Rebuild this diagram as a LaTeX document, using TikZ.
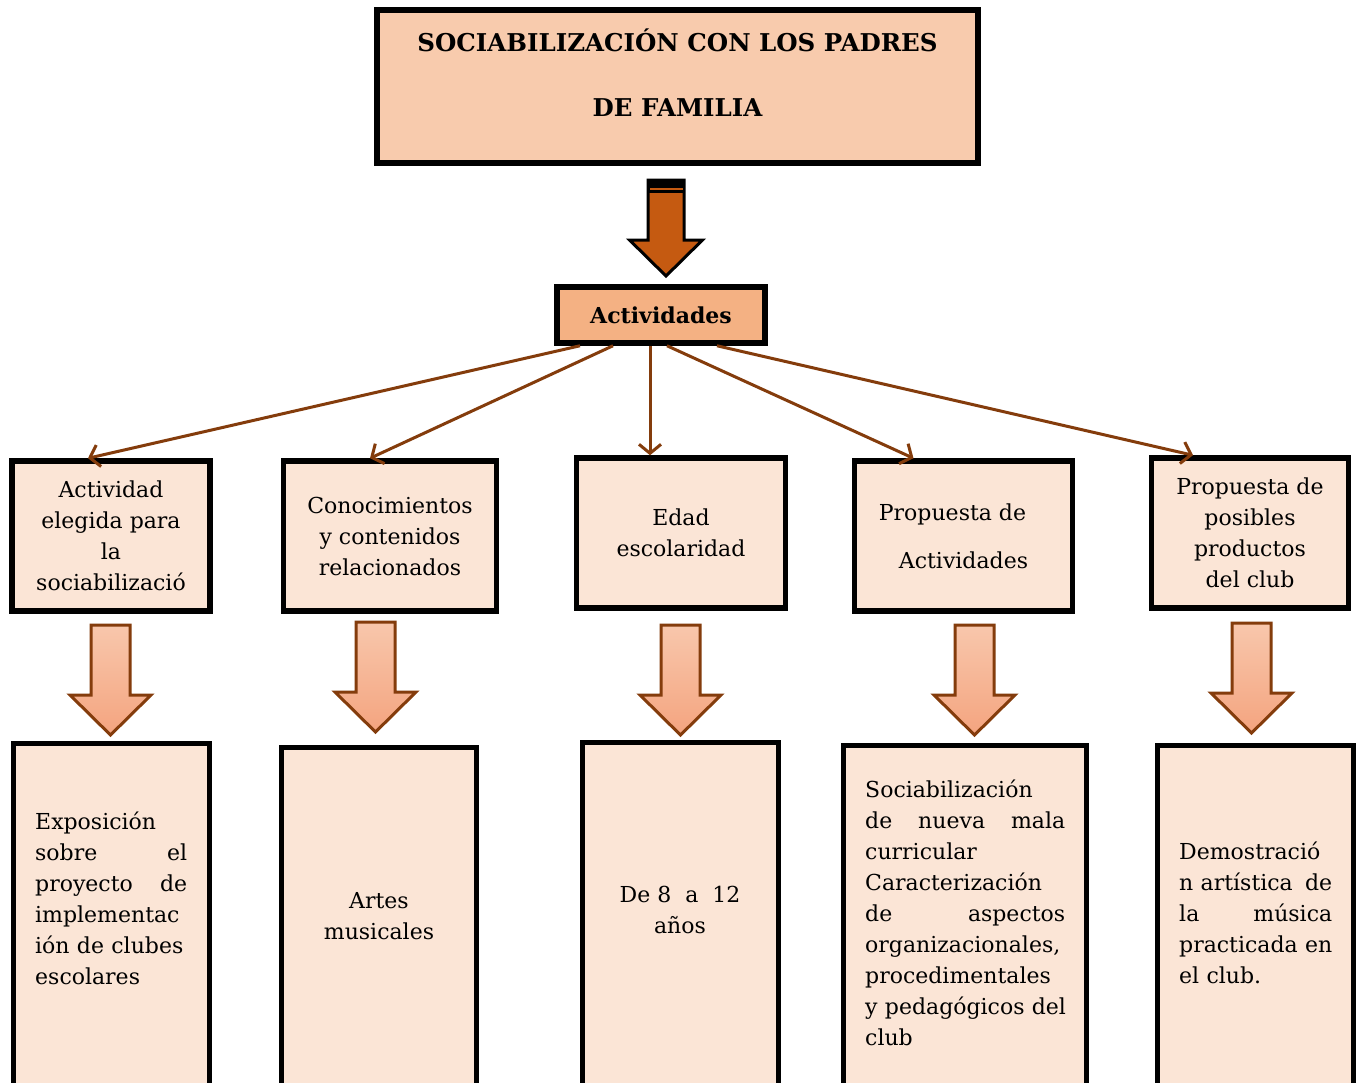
\documentclass[tikz,border=0pt]{standalone}
\usepackage{fontspec}
\setmainfont{DejaVu Serif}
\usetikzlibrary{arrows.meta,calc}
\definecolor{titlefill}{HTML}{F8CBAD}
\definecolor{actfill}{HTML}{F4B183}
\definecolor{boxfill}{HTML}{FBE5D6}
\definecolor{brownline}{HTML}{843C0C}
\definecolor{bigorange}{HTML}{C55A11}
\definecolor{arrowtop}{HTML}{F8C7AC}
\definecolor{arrowbot}{HTML}{F4A47F}
\newcommand{\jl}[2]{\makebox[#1][l]{#2}}
\newcommand{\smarrow}[2]{%
  \path[smallarrow] (#1-19.5,#2) -- (#1+19.5,#2) -- (#1+19.5,#2+70) -- (#1+40.5,#2+70)
    -- (#1,#2+110) -- (#1-40.5,#2+70) -- (#1-19.5,#2+70) -- cycle;}
\begin{document}
\begin{tikzpicture}[x=1pt,y=-1pt,
  box/.style={draw=black, line width=5.5pt, inner sep=0pt, align=center,
    font=\fontsize{22}{31}\selectfont},
  rowbox/.style={box, fill=boxfill},
  txt/.style={inner sep=0pt, font=\fontsize{22}{31}\selectfont},
  conn/.style={draw=brownline, line width=3pt, -{Straight Barb[length=9pt,width=22pt]}},
  smallarrow/.style={draw=brownline, line width=3pt, top color=arrowtop, bottom color=arrowbot, line join=miter}]
\useasboundingbox (0,0) rectangle (1362,1082);
\fill[white] (0,0) rectangle (1362,1082);

% title
\node[box, fill=titlefill, minimum width=601pt, minimum height=153pt] (title) at (677.5,86.5) {};
\node[txt, font=\bfseries\fontsize{24.5}{65}\selectfont, align=center] (titletxt) at (677.5,73)
  {SOCIABILIZACIÓN CON LOS PADRES\\DE FAMILIA};

% big arrow
\path[draw=black, line width=3pt, fill=bigorange, line join=miter]
  (648,180) -- (684,180) -- (684,240) -- (702.5,240) -- (666,276) -- (629.5,240) -- (648,240) -- cycle;
\fill[black] (648,179) rectangle (684,193);
\fill[bigorange] (649.5,187.5) rectangle (682.5,189.5);

% actividades
\node[box, fill=actfill, minimum width=208pt, minimum height=56pt,
  font=\bfseries\fontsize{22}{31}\selectfont] (act) at (661,315) {Actividades};

% row boxes
\node[rowbox, minimum width=198pt, minimum height=150pt] (b1) at (111,536)
  {Actividad\\elegida para\\la\\sociabilizació};
\node[rowbox, minimum width=213pt, minimum height=150pt] (b2) at (390,536)
  {Conocimientos\\y contenidos\\relacionados};
\node[rowbox, minimum width=209pt, minimum height=150pt] (b3) at (681,533)
  {Edad\\escolaridad};
\node[rowbox, minimum width=218pt, minimum height=150pt] (b4) at (963.5,536)
  {\hspace*{-22pt}Propuesta de\\[17pt]Actividades};
\node[rowbox, minimum width=197pt, minimum height=150pt] (b5) at (1250,533)
  {Propuesta de\\posibles\\productos\\del club};

% connectors
\draw[conn] ([xshift=-81pt]act.south) -- ([xshift=-23pt]b1.north);
\draw[conn] ([xshift=-48pt]act.south) -- ([xshift=-20pt]b2.north);
\draw[conn] ([xshift=-11pt]act.south) -- ([xshift=-31pt]b3.north);
\draw[conn] ([xshift=6pt]act.south) -- ([xshift=-50pt]b4.north);
\draw[conn] ([xshift=56pt]act.south) -- ([xshift=-57pt]b5.north);

% small arrows
\smarrow{110.5}{625}
\smarrow{375.5}{622}
\smarrow{680.5}{625}
\smarrow{974.5}{625}
\smarrow{1251.5}{623}

% bottom boxes
\node[rowbox, minimum width=196pt, minimum height=354pt] (c1) at (111.5,920.5) {};
\node[rowbox, minimum width=195pt, minimum height=350pt] (c2) at (379,922.5) {};
\node[rowbox, minimum width=196pt, minimum height=355pt] (c3) at (680.5,920) {};
\node[rowbox, minimum width=243pt, minimum height=352pt] (c4) at (965,921.5) {};
\node[rowbox, minimum width=196pt, minimum height=352pt] (c5) at (1255.5,921.5) {};

\node[txt, text width=170pt, align=left, anchor=west] (t1) at (35,898)
  {Exposición\\\jl{152pt}{sobre\hfill el}\\\jl{152pt}{proyecto\hfill de}\\implementac\\ión de clubes\\escolares};
\node[txt, align=center] (t2) at (379,916) {Artes\\musicales};
\node[txt, align=center] (t3) at (680,910) {De 8~~a~~12\\años};
\node[txt, text width=215pt, align=left, anchor=west] (t4) at (865,913)
  {Sociabilización\\\jl{200pt}{de\hfill nueva\hfill mala}\\curricular\\Caracterización\\\jl{200pt}{de\hfill aspectos}\\organizacionales,\\procedimentales\\y pedagógicos del\\club};
\node[txt, text width=170pt, align=left, anchor=west] (t5) at (1179,913)
  {Demostració\\\jl{153pt}{n\ artística\hfill de}\\\jl{153pt}{la\hfill música}\\\jl{153pt}{practicada\hfill en}\\el club.};
\end{tikzpicture}
\end{document}
